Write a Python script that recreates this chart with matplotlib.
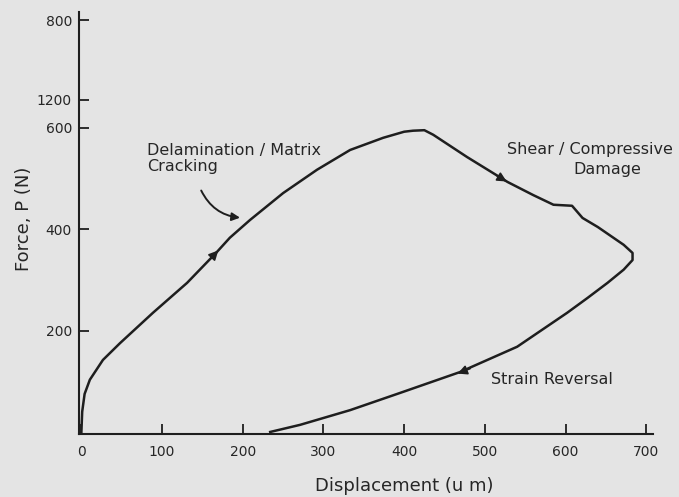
import matplotlib.pyplot as plt

plt.rcParams['font.family'] = ['DejaVu Sans']

# Петля навантаження
disp = [0, 1, 4, 10.5, 26.7, 47.8, 88.7, 131, 168, 184, 209, 250, 292, 333, 374,
        400, 411, 425, 436, 478, 528, 560, 585, 608, 621, 640, 672, 683, 683,
        672, 652, 627, 602, 540, 469, 395, 333, 271, 234]
force = [0, 40, 75, 103, 142, 175, 235, 294, 355, 383, 418, 471, 517, 556, 580,
         592, 594, 595, 586, 542, 493, 467, 448, 446, 422, 404, 369, 353, 339,
         320, 294, 264, 235, 168, 118, 77, 43, 14, 0]

x_ticks = [0, 100, 200, 300, 400, 500, 600, 700]
y_ticks = [200, 400, 600, 655, 812]
y_tick_labels = ['200', '400', '600', '1200', '800']

ink = '#1e1e1e'
txt = '#262626'
bg = '#e4e4e4'

fig = plt.figure(figsize=(6.79, 4.97), dpi=100, facecolor=bg)
ax = fig.add_axes([0.1163, 0.1268, 0.845, 0.849], facecolor=bg)

ax.plot(disp, force, color=ink, lw=1.8, solid_joinstyle='round')

# стрілки напрямку
arrow = dict(arrowstyle='-|>', color=ink, lw=1.2, mutation_scale=14)
ax.annotate('', xy=(172, 362), xytext=(158, 338), arrowprops=arrow)
ax.annotate('', xy=(530, 491), xytext=(512, 508), arrowprops=arrow)
ax.annotate('', xy=(463, 113), xytext=(485, 127), arrowprops=arrow)

# вигнута стрілка до підпису
ax.annotate('', xy=(200, 422), xytext=(147, 481),
            arrowprops=dict(arrowstyle='-|>', color=ink, lw=1.4,
                            mutation_scale=12, connectionstyle='arc3,rad=0.3'))

ax.text(81, 570, 'Delamination / Matrix\nCracking', fontsize=11.5, color=txt,
        va='top', ha='left', linespacing=1.1)
ax.text(528, 572, 'Shear / Compressive', fontsize=11.5, color=txt, va='top', ha='left')
ax.text(652, 532, 'Damage', fontsize=11.5, color=txt, va='top', ha='center')
ax.text(507, 103, 'Strain Reversal', fontsize=11.5, color=txt, va='center', ha='left')

ax.set_xlim(-3, 708)
ax.set_ylim(-4, 828)
ax.spines['top'].set_visible(False)
ax.spines['right'].set_visible(False)
for s in ('left', 'bottom'):
    ax.spines[s].set_color(ink)
    ax.spines[s].set_linewidth(1.5)

ax.set_xticks(x_ticks)
ax.set_yticks(y_ticks)
ax.set_yticklabels(y_tick_labels)
ax.tick_params(direction='in', length=7, width=1.3, color=ink, labelsize=10,
               labelcolor=txt)
ax.tick_params(axis='y', pad=5)
ax.tick_params(axis='x', pad=8)

fig.text(0.595, 0.022, 'Displacement (u m)', fontsize=13, color=txt,
         ha='center', va='center')
fig.text(0.035, 0.559, 'Force, P (N)', rotation=90, fontsize=13, color=txt,
         ha='center', va='center')

fig.savefig('out.png', dpi=100, facecolor=bg)
